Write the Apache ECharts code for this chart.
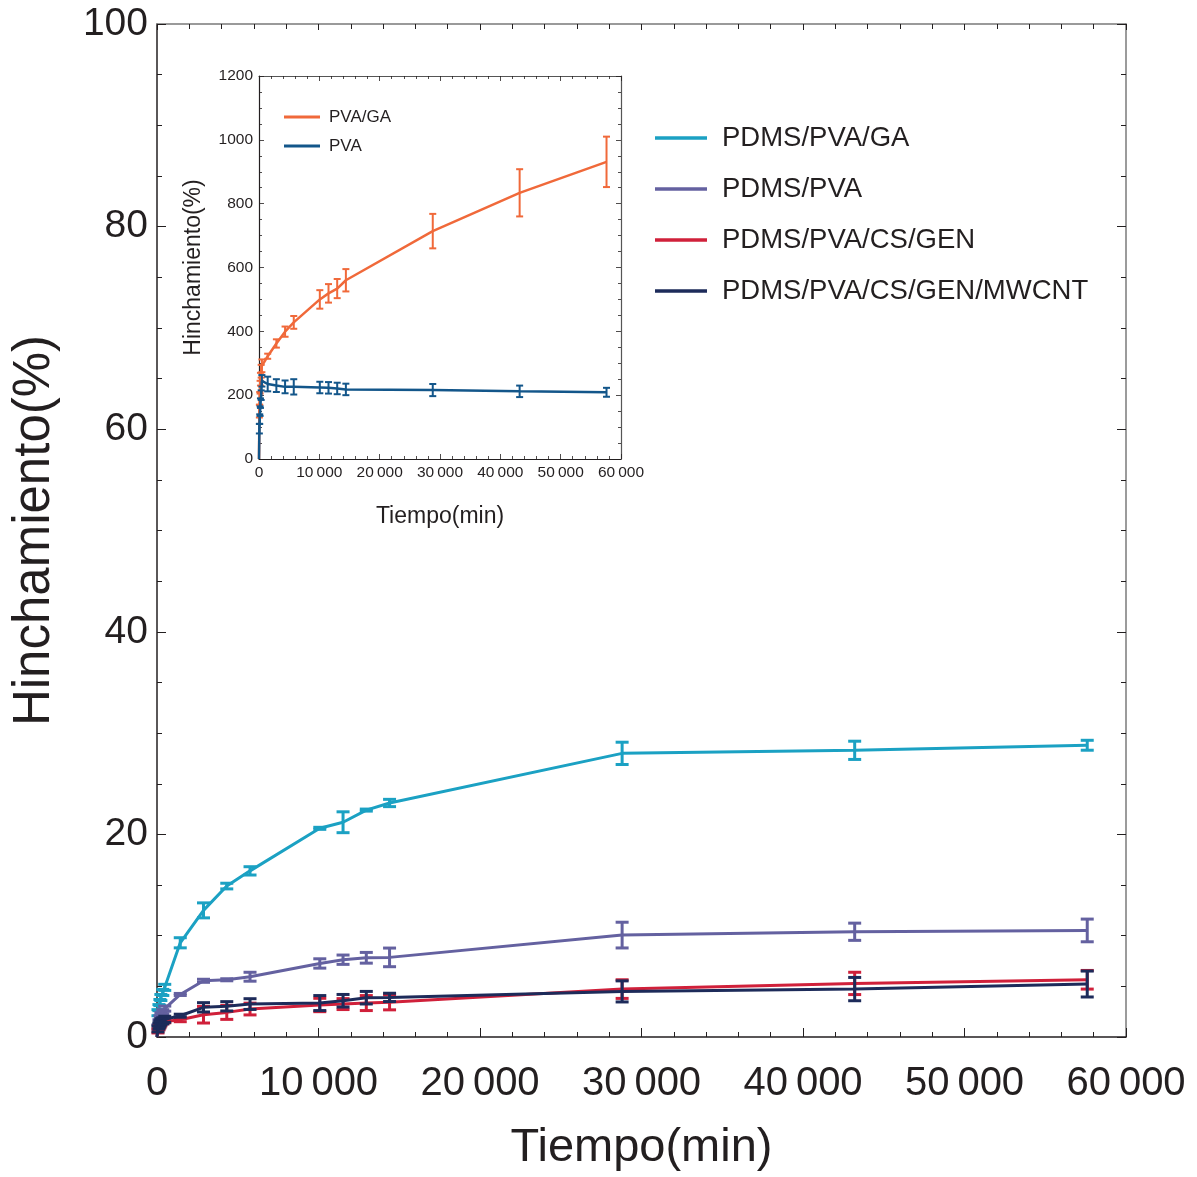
<!DOCTYPE html>
<html>
<head>
<meta charset="utf-8">
<script src="https://cdn.jsdelivr.net/npm/echarts@6/dist/echarts.min.js"></script>
<style>
html,body{margin:0;padding:0;background:#fff;}
#chart{width:1197px;height:1177px;}
</style>
</head>
<body>
<div id="chart"></div>
<script>
// ---- Data ----
const times = [0, 60, 120, 180, 240, 360, 480, 1440, 2880, 4320, 5760, 10080, 11520, 12960, 14400, 28800, 43200, 57600];

const seriesNames = ['PDMS/PVA/GA', 'PDMS/PVA', 'PDMS/PVA/CS/GEN', 'PDMS/PVA/CS/GEN/MWCNT'];
const pdmsPvaGa      = [0, 2.4, 2.9, 3.4, 3.9, 4.4, 4.9, 9.3, 12.5, 14.9, 16.4, 20.6, 21.2, 22.4, 23.1, 28.0, 28.3, 28.8];
const pdmsPvaGaErr   = [0, 0.3, 0.3, 0.3, 0.3, 0.3, 0.3, 0.5, 0.74, 0.28, 0.41, 0.1, 1.03, 0.1, 0.36, 1.1, 0.9, 0.49];
const pdmsPva        = [0, 1.0, 1.5, 1.9, 2.2, 2.5, 2.8, 4.2, 5.55, 5.65, 5.95, 7.26, 7.63, 7.82, 7.86, 10.06, 10.39, 10.52];
const pdmsPvaErr     = [0, 0.2, 0.2, 0.2, 0.2, 0.2, 0.25, 0.1, 0.15, 0.1, 0.44, 0.46, 0.46, 0.53, 0.92, 1.27, 0.85, 1.12];
const pdmsCsGen      = [0, 0.6, 0.9, 1.1, 1.3, 1.5, 1.6, 1.71, 2.2, 2.43, 2.76, 3.16, 3.25, 3.35, 3.42, 4.73, 5.29, 5.65];
const pdmsCsGenErr   = [0, 0.2, 0.2, 0.2, 0.2, 0.2, 0.2, 0.2, 0.82, 0.69, 0.58, 0.66, 0.54, 0.74, 0.74, 0.92, 1.1, 0.92];
const pdmsMwcnt      = [0, 0.8, 1.1, 1.3, 1.5, 1.6, 1.75, 2.1, 2.93, 3.03, 3.25, 3.35, 3.58, 3.88, 3.91, 4.5, 4.73, 5.23];
const pdmsMwcntErr   = [0, 0.3, 0.3, 0.3, 0.3, 0.3, 0.3, 0.15, 0.46, 0.46, 0.53, 0.74, 0.62, 0.62, 0.41, 1.04, 1.15, 1.28];

const insetNames = ['PVA/GA', 'PVA'];
const pvaGa      = [0, 150, 190, 225, 250, 275, 292, 322, 362, 399, 428, 500, 519, 534, 560, 714, 834, 931];
const pvaGaErr   = [0, 20, 20, 20, 20, 20, 20, 8, 13, 16, 20, 29, 29, 30, 35, 54, 74, 79];
const pva        = [0, 95, 125, 150, 175, 200, 245, 235, 230, 226, 226, 224, 223, 221, 218, 216, 212, 209];
const pvaErr     = [0, 15, 15, 15, 15, 15, 18, 23, 20, 20, 24, 18, 18, 18, 18, 19, 18, 14];

const mainYTicks = [0, 20, 40, 60, 80, 100];
const insetYTicks = [0, 200, 400, 600, 800, 1000, 1200];
const xTicks = [0, 10000, 20000, 30000, 40000, 50000, 60000];

// ---- Styles ----
const mainColors = ['#1ba1c3', '#6461a0', '#d0203a', '#1d2b5a'];
const insetColors = ['#f0693a', '#13568a'];
const dark = '#231f20';
const grey = '#7a7a7a';
const reg = "'Liberation Sans', Arial, sans-serif";

function fmtX(v) {
  if (v === 0) return '0';
  const s = String(v);
  return s.slice(0, s.length - 3) + '\u2009' + s.slice(s.length - 3);
}
function fmtPlain(v) { return String(v); }

function errRender(capHalf, lw) {
  return function (params, api) {
    const x = api.value(0), y = api.value(1), e = api.value(2);
    if (!e) return null;
    const top = api.coord([x, y + e]);
    const bot = api.coord([x, y - e]);
    const style = { stroke: api.visual('color'), lineWidth: lw, fill: null };
    return {
      type: 'group',
      children: [
        { type: 'line', shape: { x1: top[0], y1: top[1], x2: bot[0], y2: bot[1] }, style: style },
        { type: 'line', shape: { x1: top[0] - capHalf, y1: top[1], x2: top[0] + capHalf, y2: top[1] }, style: style },
        { type: 'line', shape: { x1: bot[0] - capHalf, y1: bot[1], x2: bot[0] + capHalf, y2: bot[1] }, style: style }
      ]
    };
  };
}

function zip3(a, b) { return times.map((t, i) => [t, a[i], b[i]]); }
function zip2(a) { return times.map((t, i) => [t, a[i]]); }

const mainVals = [pdmsPvaGa, pdmsPva, pdmsCsGen, pdmsMwcnt];
const mainErrs = [pdmsPvaGaErr, pdmsPvaErr, pdmsCsGenErr, pdmsMwcntErr];
const insetVals = [pvaGa, pva];
const insetErrs = [pvaGaErr, pvaErr];

const series = [];
mainVals.forEach((vals, i) => {
  series.push({
    name: seriesNames[i], type: 'line', xAxisIndex: 0, yAxisIndex: 0,
    data: zip2(vals), symbol: 'none', lineStyle: { width: 3, color: mainColors[i] },
    itemStyle: { color: mainColors[i] }, z: 3 + i, silent: true, animation: false
  });
  series.push({
    name: seriesNames[i] + ' err', type: 'custom', xAxisIndex: 0, yAxisIndex: 0,
    data: zip3(vals, mainErrs[i]), encode: { x: 0, y: 1 },
    renderItem: errRender(6.5, 3), itemStyle: { color: mainColors[i] }, z: 3 + i, silent: true, animation: false
  });
});
insetVals.forEach((vals, i) => {
  series.push({
    name: insetNames[i], type: 'line', xAxisIndex: 2, yAxisIndex: 2,
    data: zip2(vals), symbol: 'none', lineStyle: { width: 2.5, color: insetColors[i] },
    itemStyle: { color: insetColors[i] }, z: 10 + i, silent: true, animation: false
  });
  series.push({
    name: insetNames[i] + ' err', type: 'custom', xAxisIndex: 2, yAxisIndex: 2,
    data: zip3(vals, insetErrs[i]), encode: { x: 0, y: 1 },
    renderItem: errRender(3.5, 2), itemStyle: { color: insetColors[i] }, z: 10 + i, silent: true, animation: false
  });
});

function xAxisDef(grid, pos, opts) {
  return Object.assign({
    type: 'value', gridIndex: grid, position: pos, min: 0, max: 60000, interval: 10000,
    splitLine: { show: false },
    axisLine: { show: true, onZero: false, lineStyle: { color: dark, width: 1.5 } },
    axisTick: { show: true, inside: true, length: 9, lineStyle: { color: dark, width: 1 } },
    minorTick: { show: true, splitNumber: 5, length: 5, lineStyle: { color: dark, width: 1 } },
    axisLabel: { show: false }
  }, opts);
}
function yAxisDef(grid, pos, max, interval, opts) {
  return Object.assign({
    type: 'value', gridIndex: grid, position: pos, min: 0, max: max, interval: interval,
    splitLine: { show: false },
    axisLine: { show: true, onZero: false, lineStyle: { color: dark, width: 1.5 } },
    axisTick: { show: true, inside: true, length: 9, lineStyle: { color: dark, width: 1 } },
    minorTick: { show: true, splitNumber: 4, length: 5, lineStyle: { color: dark, width: 1 } },
    axisLabel: { show: false }
  }, opts);
}

const option = {
  backgroundColor: '#ffffff',
  animation: false,
  grid: [
    { left: 157, right: 71, top: 24, bottom: 139, containLabel: false },
    { left: 259, right: 576, top: 76, bottom: 718, containLabel: false }
  ],
  legend: [
    {
      data: seriesNames, left: 655, top: 123, orient: 'vertical', icon: 'rect',
      itemWidth: 52, itemHeight: 3.5, itemGap: 21, padding: 0,
      textStyle: { fontFamily: reg, fontSize: 27.5, color: dark, lineHeight: 30, padding: [0, 0, 0, 10] },
      selectedMode: false
    },
    {
      data: insetNames, left: 284, top: 108, orient: 'vertical', icon: 'rect',
      itemWidth: 36, itemHeight: 3, itemGap: 11, padding: 0,
      textStyle: { fontFamily: reg, fontSize: 17, color: dark, lineHeight: 18, padding: [0, 0, 0, 4] },
      selectedMode: false
    }
  ],
  xAxis: [
    xAxisDef(0, 'bottom', {
      name: 'Tiempo(min)', nameLocation: 'middle', nameGap: 88,
      nameTextStyle: { fontFamily: reg, fontSize: 47, color: dark },
      axisLabel: { show: true, margin: 27, formatter: fmtX, fontFamily: reg, fontSize: 40, color: dark }
    }),
    xAxisDef(0, 'top', {
      axisLine: { show: true, onZero: false, lineStyle: { color: grey, width: 1.5 } },
      axisTick: { show: true, inside: true, length: 6, lineStyle: { color: dark, width: 1 } },
      minorTick: { show: true, splitNumber: 5, length: 5, lineStyle: { color: dark, width: 1 } }
    }),
    xAxisDef(1, 'bottom', {
      name: 'Tiempo(min)', nameLocation: 'middle', nameGap: 46,
      nameTextStyle: { fontFamily: reg, fontSize: 23, color: dark },
      axisLine: { show: true, onZero: false, lineStyle: { color: dark, width: 1.2 } },
      axisTick: { show: true, inside: true, length: 5, lineStyle: { color: dark, width: 0.8 } },
      minorTick: { show: true, splitNumber: 5, length: 3, lineStyle: { color: dark, width: 0.8 } },
      axisLabel: { show: true, margin: 6, formatter: fmtX, fontFamily: reg, fontSize: 15.5, color: dark }
    }),
    xAxisDef(1, 'top', {
      axisLine: { show: true, onZero: false, lineStyle: { color: '#555', width: 1.2 } },
      axisTick: { show: true, inside: true, length: 5, lineStyle: { color: dark, width: 0.8 } },
      minorTick: { show: true, splitNumber: 5, length: 3, lineStyle: { color: dark, width: 0.8 } }
    })
  ],
  yAxis: [
    yAxisDef(0, 'left', 100, 20, {
      name: 'Hinchamiento(%)', nameLocation: 'middle', nameGap: 97, nameRotate: 90,
      nameTextStyle: { fontFamily: reg, fontSize: 51, color: dark },
      axisLabel: { show: true, margin: 9, formatter: fmtPlain, fontFamily: reg, fontSize: 39, color: dark }
    }),
    yAxisDef(0, 'right', 100, 20, {
      axisLine: { show: true, onZero: false, lineStyle: { color: grey, width: 1.5 } }
    }),
    yAxisDef(1, 'left', 1200, 200, {
      name: 'Hinchamiento(%)', nameLocation: 'middle', nameGap: 54, nameRotate: 90,
      nameTextStyle: { fontFamily: reg, fontSize: 23, color: dark },
      axisLine: { show: true, onZero: false, lineStyle: { color: dark, width: 1.2 } },
      axisTick: { show: true, inside: true, length: 5, lineStyle: { color: dark, width: 0.8 } },
      minorTick: { show: true, splitNumber: 4, length: 3, lineStyle: { color: dark, width: 0.8 } },
      axisLabel: { show: true, margin: 6, formatter: fmtPlain, fontFamily: reg, fontSize: 15.5, color: dark }
    }),
    yAxisDef(1, 'right', 1200, 200, {
      axisLine: { show: true, onZero: false, lineStyle: { color: '#555', width: 1.2 } },
      axisTick: { show: true, inside: true, length: 5, lineStyle: { color: dark, width: 0.8 } },
      minorTick: { show: true, splitNumber: 4, length: 3, lineStyle: { color: dark, width: 0.8 } }
    })
  ],
  series: series
};

const chart = echarts.init(document.getElementById('chart'), null, { renderer: 'canvas' });
chart.setOption(option);
</script>
</body>
</html>
